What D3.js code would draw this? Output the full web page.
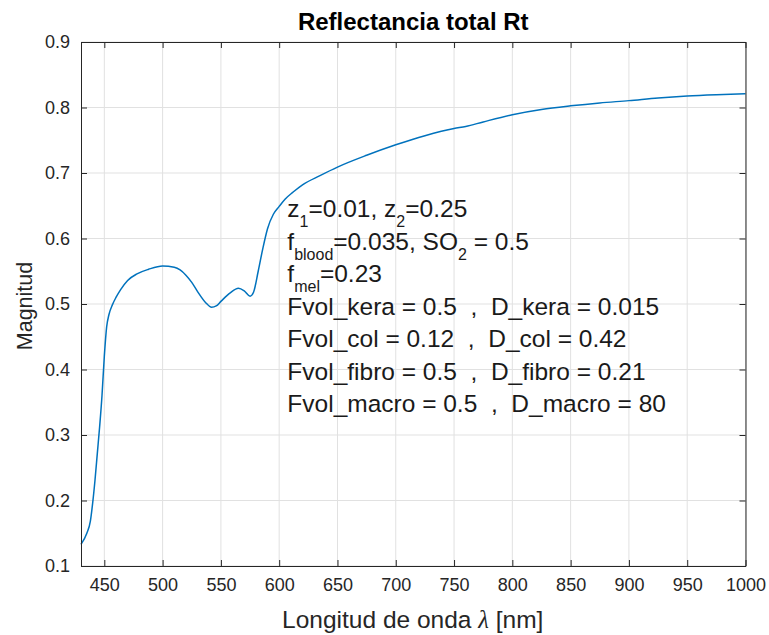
<!DOCTYPE html>
<html>
<head>
<meta charset="utf-8">
<script src="https://cdn.jsdelivr.net/npm/d3@7"></script>
<style>
  html, body { margin: 0; padding: 0; background: #fff; }
  svg { display: block; }
  text { font-family: "Liberation Sans", Arial, Helvetica, sans-serif; }
</style>
</head>
<body>
<script>
// ---- data ----
const wavelength = [430, 435, 438, 440, 442, 444, 446, 448, 450, 452, 454, 457, 460, 464, 470, 478, 488, 500, 510, 515, 520, 525, 530, 537, 542, 546, 550, 558, 565, 570, 575, 578, 582, 586, 590, 595, 600, 605, 612, 620, 635, 650, 675, 700, 725, 750, 760, 775, 800, 825, 850, 875, 900, 925, 950, 975, 1000];
const reflectance = [0.133, 0.150, 0.168, 0.196, 0.231, 0.272, 0.313, 0.360, 0.420, 0.465, 0.484, 0.499, 0.510, 0.522, 0.536, 0.546, 0.553, 0.558, 0.556, 0.552, 0.544, 0.533, 0.519, 0.502, 0.495, 0.497, 0.504, 0.517, 0.524, 0.520, 0.512, 0.518, 0.550, 0.585, 0.615, 0.637, 0.649, 0.660, 0.671, 0.682, 0.696, 0.709, 0.727, 0.743, 0.757, 0.768, 0.771, 0.778, 0.789, 0.797, 0.8025, 0.807, 0.8105, 0.8145, 0.8175, 0.8195, 0.821];
const xTicks = [450, 500, 550, 600, 650, 700, 750, 800, 850, 900, 950, 1000];
const yTicks = [0.1, 0.2, 0.3, 0.4, 0.5, 0.6, 0.7, 0.8, 0.9];
const titleText = "Reflectancia total Rt";
const yLabelText = "Magnitud";
// annotation lines: arrays of [text, isSubscript]
const annotationLines = [
  [["z", 0], ["1", 1], ["=0.01, z", 0], ["2", 1], ["=0.25", 0]],
  [["f", 0], ["blood", 1], ["=0.035, SO", 0], ["2", 1], [" = 0.5", 0]],
  [["f", 0], ["mel", 1], ["=0.23", 0]],
  [["Fvol_kera = 0.5  ,  D_kera = 0.015", 0]],
  [["Fvol_col = 0.12  ,  D_col = 0.42", 0]],
  [["Fvol_fibro = 0.5  ,  D_fibro = 0.21", 0]],
  [["Fvol_macro = 0.5  ,  D_macro = 80", 0]]
];

const W = 769, H = 635;
const margin = { left: 81, right: W - 745.5, top: 42, bottom: H - 566 };
const iw = W - margin.left - margin.right, ih = H - margin.top - margin.bottom;

const svg = d3.select("body").append("svg").attr("width", W).attr("height", H);
const g = svg.append("g").attr("transform", `translate(${margin.left},${margin.top})`);

const x = d3.scaleLinear().domain([430, 1000]).range([0, iw]);
const y = d3.scaleLinear().domain([0.1, 0.9]).range([ih, 0]);

const axisColor = "#262626";
const gridColor = "#e1e1e1";

// grid
g.append("g").selectAll("line").data(xTicks).join("line")
  .attr("x1", d => x(d)).attr("x2", d => x(d)).attr("y1", 0).attr("y2", ih)
  .attr("stroke", gridColor).attr("stroke-width", 1);
g.append("g").selectAll("line").data(yTicks).join("line")
  .attr("x1", 0).attr("x2", iw).attr("y1", d => y(d)).attr("y2", d => y(d))
  .attr("stroke", gridColor).attr("stroke-width", 1);

// curve
const pts = wavelength.map((w, i) => [w, reflectance[i]]);
g.append("path").datum(pts)
  .attr("fill", "none").attr("stroke", "#0072BD").attr("stroke-width", 1.5)
  .attr("d", d3.line().x(d => x(d[0])).y(d => y(d[1])).curve(d3.curveMonotoneX));

// axes (ticks inside)
const tickLen = 6;
const fmtY = d3.format(".1f");
const bottomAxis = d3.axisBottom(x).tickValues(xTicks).tickSizeInner(-tickLen).tickSizeOuter(0).tickPadding(12).tickFormat(d3.format("d"));
const leftAxis = d3.axisLeft(y).tickValues(yTicks).tickSizeInner(-tickLen).tickSizeOuter(0).tickPadding(11).tickFormat(fmtY);
const topAxis = d3.axisTop(x).tickValues(xTicks).tickSizeInner(-tickLen).tickSizeOuter(0).tickFormat("");
const rightAxis = d3.axisRight(y).tickValues(yTicks).tickSizeInner(-tickLen).tickSizeOuter(0).tickFormat("");

function styleAxis(sel, fs) {
  sel.selectAll("path").attr("stroke", axisColor).attr("stroke-width", 1);
  sel.selectAll("line").attr("stroke", axisColor).attr("stroke-width", 1);
  sel.selectAll("text").attr("fill", axisColor).style("font-size", fs + "px")
     .style("font-family", '"Liberation Sans", Arial, sans-serif');
}
styleAxis(g.append("g").attr("transform", `translate(0,${ih})`).call(bottomAxis), 18);
styleAxis(g.append("g").call(leftAxis), 18);
styleAxis(g.append("g").call(topAxis), 18);
styleAxis(g.append("g").attr("transform", `translate(${iw},0)`).call(rightAxis), 18);

// title
svg.append("text").attr("x", margin.left + iw / 2).attr("y", 30)
  .attr("text-anchor", "middle").attr("font-weight", "bold").style("font-size", "24px")
  .attr("fill", "#000").text(titleText);

// x label
const xl = svg.append("text").attr("x", margin.left + iw / 2 - 0.5).attr("y", 628)
  .attr("text-anchor", "middle").style("font-size", "24.5px").attr("fill", axisColor);
xl.append("tspan").text("Longitud de onda ");
xl.append("tspan").style("font-family", '"Liberation Serif", "DejaVu Serif", serif').style("font-style", "italic").text("λ");
xl.append("tspan").text(" [nm]");

// y label
svg.append("text").attr("transform", `translate(32,${margin.top + ih / 2 + 2}) rotate(-90)`)
  .attr("text-anchor", "middle").style("font-size", "21.5px").attr("fill", axisColor).text(yLabelText);

// annotation
const ax = x(607), ay0 = 217 - margin.top, lh = 32.5;
annotationLines.forEach((parts, i) => {
  const t = g.append("text").attr("x", ax).attr("y", ay0 + i * lh)
    .style("font-size", "24.5px").style("white-space", "pre").attr("xml:space", "preserve").attr("fill", "#1a1a1a");
  let sub = false;
  parts.forEach(([s, isSub]) => {
    const ts = t.append("tspan").text(s);
    if (isSub && !sub) { ts.attr("dy", 10).style("font-size", "16px"); sub = true; }
    else if (!isSub && sub) { ts.attr("dy", -10); sub = false; }
    else if (isSub) ts.style("font-size", "16px");
  });
});
</script>
</body>
</html>
